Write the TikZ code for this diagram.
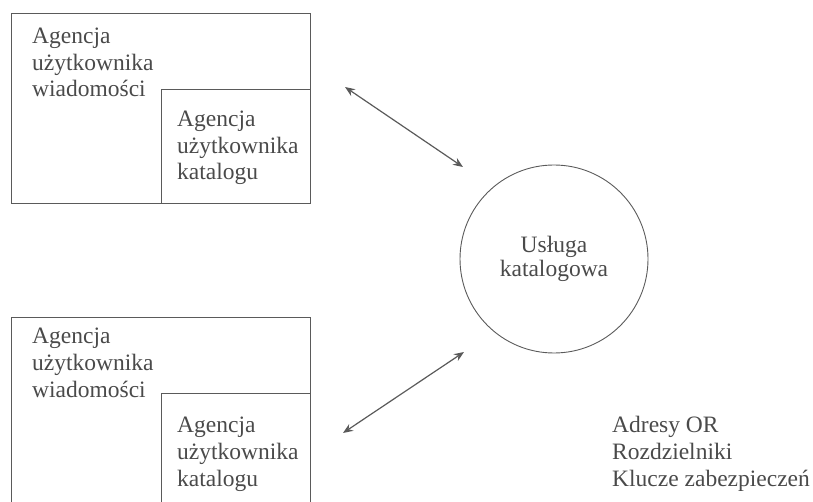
\documentclass[tikz,border=0pt]{standalone}
\usepackage{fontspec}
\setmainfont{Liberation Serif}
\usetikzlibrary{arrows.meta}
\definecolor{ink}{HTML}{5A5A5A}
\definecolor{txt}{HTML}{4A4A4A}
\tikzset{
  x=1pt, y=-1pt,
  boxshape/.style={draw=ink, line width=0.9pt, rectangle, inner sep=0pt},
  lbl/.style={text=txt, font=\fontsize{23.5}{26.7}\selectfont, align=left, inner sep=0pt, anchor=base west},
  circ/.style={draw=ink, line width=0.9pt, circle, minimum size=188pt, inner sep=0pt, text=txt, font=\fontsize{23.5}{24.5}\selectfont, align=center},
  link/.style={draw=ink, line width=1.2pt, {Stealth[length=10pt,width=8pt]}-{Stealth[length=10pt,width=8pt]}}
}
\begin{document}
\begin{tikzpicture}
\useasboundingbox (0,0) rectangle (813,502);
% top group
\node[boxshape, minimum width=299pt, minimum height=190pt] (outer1) at (160.5,108) {};
\node[boxshape, minimum width=149pt, minimum height=114pt] (inner1) at (235.5,146) {};
\node[lbl] (t1) at (32,97) {Agencja\\użytkownika\\wiadomości};
\node[lbl] (t2) at (177,180) {Agencja\\użytkownika\\katalogu};
% bottom group
\node[boxshape, minimum width=299pt, minimum height=200pt] (outer2) at (160.5,417) {};
\node[boxshape, minimum width=149pt, minimum height=124pt] (inner2) at (235.5,455) {};
\node[lbl] (t3) at (32,397) {Agencja\\użytkownika\\wiadomości};
\node[lbl] (t4) at (177,486) {Agencja\\użytkownika\\katalogu};
% circle
\node[circ] (svc) at (554,259) {Usługa\\katalogowa};
% right text
\node[lbl] (t5) at (612,486) {Adresy OR\\Rozdzielniki\\Klucze zabezpieczeń};
% arrows
\coordinate (a1s) at (345,87);
\coordinate (a1e) at (463,167);
\coordinate (a2s) at (343,433);
\coordinate (a2e) at (464,352);
\draw[link] (a1s) -- (a1e);
\draw[link] (a2s) -- (a2e);
\end{tikzpicture}
\end{document}
